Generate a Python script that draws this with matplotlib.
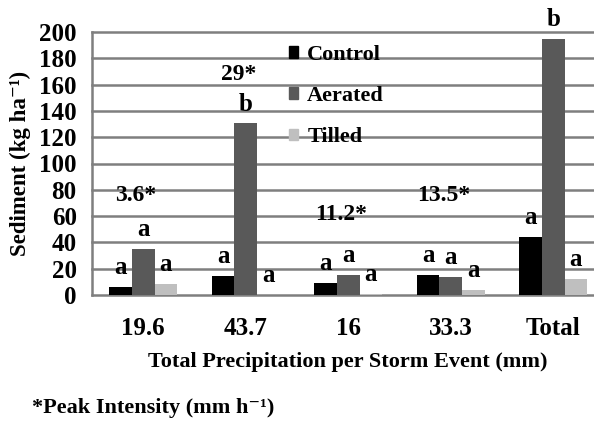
#!/usr/bin/env python3
"""Sediment loss per storm event for control, aerated and tilled plots."""
import numpy as np
import matplotlib
matplotlib.use("Agg")
import matplotlib.pyplot as plt
from matplotlib.patches import Patch
from matplotlib.lines import Line2D

# ---------------- data ----------------
events = ["19.6", "43.7", "16", "33.3", "Total"]
treatments = ["Control", "Aerated", "Tilled"]
control = [6, 14.4, 8.9, 15.2, 44]
aerated = [35, 130.5, 15.2, 13.5, 194.5]
tilled = [8.5, 0.3, 0.5, 3.8, 12.5]
letters_control = ["a", "a", "a", "a", "a"]
letters_aerated = ["a", "b", "a", "a", "b"]
letters_tilled = ["a", "a", "a", "a", "a"]
peak_intensity = ["3.6*", "29*", "11.2*", "13.5*"]
y_ticks = [0, 20, 40, 60, 80, 100, 120, 140, 160, 180, 200]

# ---------------- style ----------------
plt.rcParams['font.family'] = ['Liberation Serif', 'DejaVu Serif']

colors = ["#000000", "#595959", "#bfbfbf"]
grid_col = "#7f7f7f"

W, H = 594, 422
fig = plt.figure(figsize=(W / 100, H / 100), dpi=100)
# axes in pixel terms: left spine at x=92, zero line y=295, top y=32
ax = fig.add_axes([92 / W, (H - 295) / H, (W - 92) / W, 263 / H])
ax.patch.set_visible(False)
ax.set_ylim(0, 200)
xmax = -0.5 + (W - 92) / 102.5
ax.set_xlim(-0.5, xmax)

# horizontal gridlines, drawn behind the (transparent) axes
for yt in y_ticks[1:]:
    yf = (H - 295) / H + (yt / 200) * 263 / H
    fig.add_artist(Line2D([92 / W, 1], [yf, yf], transform=fig.transFigure,
                          color=grid_col, linewidth=1.8, zorder=-1))

x = np.arange(len(events))
bw = 0.22
series = [control, aerated, tilled]
letters = [letters_control, letters_aerated, letters_tilled]
for i, (vals, col, lab) in enumerate(zip(series, colors, letters)):
    xpos = x + (i - 1) * bw
    ax.bar(xpos, vals, width=bw, color=col, zorder=3)
    for xp, v, t in zip(xpos, vals, lab):
        ax.text(xp, v + 6, t, ha='center', va='bottom', fontsize=18,
                fontweight='bold', zorder=4, clip_on=False)

# peak intensity notes above each storm
peak_y = [76, 168, 61, 76]
for xi, txt, yy in zip(x[:4], peak_intensity, peak_y):
    ax.text(xi - 0.07, yy, txt, ha='center', va='center', fontsize=17,
            fontweight='bold', zorder=4)

ax.set_yticks(y_ticks)
ax.set_xticks(x)
ax.set_xticklabels(events, fontweight='bold')
ax.set_yticklabels([str(v) for v in y_ticks], fontweight='bold')
ax.tick_params(axis='y', length=0, pad=11, labelsize=18)
ax.tick_params(axis='x', length=0, pad=16, labelsize=18)
for s in ['top', 'right']:
    ax.spines[s].set_visible(False)
for s in ['left', 'bottom']:
    ax.spines[s].set_color(grid_col)
    ax.spines[s].set_linewidth(1.8)

ax.set_ylabel("Sediment (kg ha\u207b\u00b9)", fontsize=16.5, fontweight='bold',
              labelpad=6)
ax.set_xlabel("Total Precipitation per Storm Event (mm)", fontsize=16,
              fontweight='bold')
ax.xaxis.set_label_coords((348 - 92) / (W - 92), -0.215)

handles = [Patch(color=c) for c in colors]
leg = ax.legend(handles, treatments, loc='upper left',
                bbox_to_anchor=(289 / W, 1 - 45 / H),
                bbox_transform=fig.transFigure, frameon=False,
                fontsize=16, handlelength=0.42, handleheight=0.42,
                handletextpad=0.4, labelspacing=0.95, borderpad=0,
                borderaxespad=0)
for t in leg.get_texts():
    t.set_fontweight('bold')

fig.text(32 / W, 1 - 408 / H, "*Peak Intensity (mm h\u207b\u00b9)", fontsize=16,
         fontweight='bold', ha='left', va='center')

fig.savefig("out.png", dpi=100)
